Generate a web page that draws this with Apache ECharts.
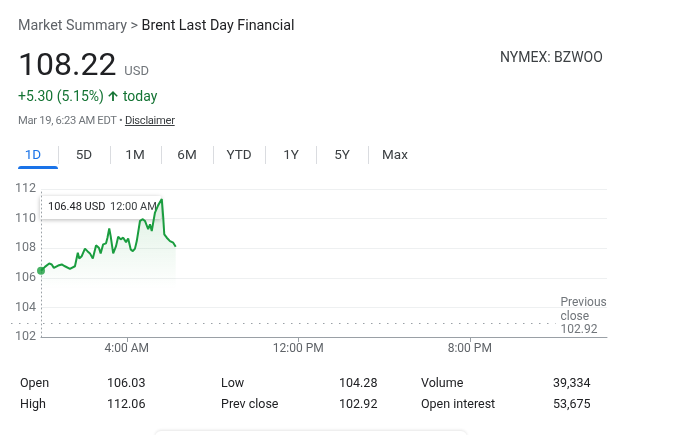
<!DOCTYPE html>
<html>
<head>
<meta charset="utf-8">
<script src="https://cdn.jsdelivr.net/npm/echarts@6/dist/echarts.min.js"></script>
<style>
  html, body { margin:0; padding:0; background:#fff; }
  body { width:677px; height:435px; position:relative; overflow:hidden; font-family: Roboto, Arial, sans-serif; }
  #chart { position:absolute; left:0; top:0; width:677px; height:435px; }
  .t { position:absolute; white-space:nowrap; }
  #crumb { left:18px; top:17px; font-size:14.3px; line-height:16px; color:#5f6368; }
  #crumb b { font-weight:400; color:#202124; }
  #price { left:18px; top:46px; display:flex; align-items:baseline; }
  #price .big { font-size:32px; line-height:36px; color:#202124; }
  #price .cur { font-size:13px; color:#70757a; margin-left:8px; }
  #chg { left:18px; top:88px; font-size:14px; line-height:16px; color:#137333; }
  #chg svg { vertical-align:-1px; }
  #date { left:18px; top:114px; font-size:11.2px; line-height:14px; color:#70757a; letter-spacing:-0.3px; }
  #date u { color:#3c4043; }
  #exch { left:500px; top:49px; font-size:14px; line-height:16px; color:#3c4043; }
  .tab { position:absolute; top:145px; font-size:13.5px; line-height:18px; color:#3c4043; transform:translateX(-50%); }
  .tab.on { color:#1a73e8; }
  .sep { position:absolute; top:146px; width:1px; height:18px; background:#dadce0; }
  #uline { position:absolute; left:18px; top:165.5px; width:40px; height:3px; background:#1a73e8; border-radius:3px 3px 0 0; }
  .cell { position:absolute; font-size:12.5px; line-height:16px; color:#202124; transform:translateY(-50%); }
  #card { position:absolute; left:155px; top:431px; width:312px; height:12px; border-radius:8px; box-shadow:0 -1px 3px rgba(0,0,0,0.10); background:#fff; }
</style>
</head>
<body>
<div id="chart"></div>
<div id="overlay"></div>
<script>
// ---------------- data ----------------
const breadcrumb = "Market Summary >";
const instrument = "Brent Last Day Financial";
const lastPrice = "108.22";
const currency = "USD";
const changeText = "+5.30 (5.15%)";
const dateText = "Mar 19, 6:23 AM EDT";
const exchange = "NYMEX: BZWOO";
const ranges = ["1D", "5D", "1M", "6M", "YTD", "1Y", "5Y", "Max"];
const prevClose = 102.92;

// minutes since midnight, and price
const minutesSinceMidnight = [0, 11, 23, 30, 36, 48, 58, 67, 81, 95, 103, 107, 114, 123, 130, 137, 145, 154, 162, 167,
  174, 182, 186, 191, 195, 202, 210, 216, 223, 230, 238, 244, 251, 257, 263, 268, 272, 277, 285, 291,
  296, 300, 305, 310, 314, 319, 328, 338, 342, 345, 352, 356, 361, 366, 370, 375, 377];
const prices = [106.48, 106.74, 106.97, 106.90, 106.67, 106.83, 106.90, 106.78, 106.61, 106.78, 107.69, 107.31, 107.46, 107.97, 107.80, 107.65, 107.31, 108.19, 108.03, 107.65,
  108.26, 108.33, 108.71, 109.33, 108.82, 107.65, 108.14, 108.78, 108.60, 108.71, 108.41, 108.65, 107.92, 107.80, 107.97, 108.48, 108.60, 109.84, 109.96, 109.84,
  109.91, 109.28, 109.62, 109.16, 109.73, 110.41, 110.91, 111.32, 110.10, 108.94, 108.71, 108.60, 108.48, 108.53, 108.37, 108.26, 108.10];

const xTickMinutes = [240, 720, 1200];
const yTicks = [102, 104, 106, 108, 110, 112];
const sessionEndMinutes = 1440;

const statsLabels = [["Open", "High"], ["Low", "Prev close"], ["Volume", "Open interest"]];
const statsValues = [["106.03", "112.06"], ["104.28", "102.92"], ["39,334", "53,675"]];

// ---------------- HTML text ----------------
const ov = document.getElementById('overlay');
function add(html) { ov.insertAdjacentHTML('beforeend', html); }
add(`<div class="t" id="crumb">${breadcrumb} <b>${instrument}</b></div>`);
add(`<div class="t" id="price"><span class="big">${lastPrice}</span><span class="cur">${currency}</span></div>`);
add(`<div class="t" id="chg">${changeText} <svg width="12" height="13" viewBox="0 0 24 24"><path fill="#137333" d="M2.5 12.5l2.2 2.2L10.2 9.2V23h3.6V9.2l5.5 5.5 2.2-2.2L12 3z"/></svg> today</div>`);
add(`<div class="t" id="date">${dateText} • <u>Disclaimer</u></div>`);
add(`<div class="t" id="exch">${exchange}</div>`);
const tabCenters = [33, 84, 135, 187, 239, 291, 342, 395];
const sepX = [58, 110, 161, 213, 265, 316, 368];
ranges.forEach((r, i) => add(`<div class="tab${i === 0 ? ' on' : ''}" style="left:${tabCenters[i]}px">${r}</div>`));
sepX.forEach(x => add(`<div class="sep" style="left:${x}px"></div>`));
add(`<div id="uline"></div>`);
const colLabelX = [20, 221, 421], colValX = [107, 339, 553], rowY = [383, 404];
statsLabels.forEach((col, c) => col.forEach((lab, r) => {
  add(`<div class="cell" style="left:${colLabelX[c]}px;top:${rowY[r]}px">${lab}</div>`);
  add(`<div class="cell" style="left:${colValX[c]}px;top:${rowY[r]}px">${statsValues[c][r]}</div>`);
}));
add(`<div id="card"></div>`);

// ---------------- chart ----------------
function fmtTime(m) {
  let h = Math.floor(m / 60) % 24, mm = Math.round(m % 60);
  const ap = h < 12 ? 'AM' : 'PM';
  let h12 = h % 12; if (h12 === 0) h12 = 12;
  return h12 + ':' + String(mm).padStart(2, '0') + ' ' + ap;
}
const lineData = minutesSinceMidnight.map((m, i) => [m, prices[i]]);
const green = '#1a9d3f';
const chart = echarts.init(document.getElementById('chart'), null, { renderer: 'canvas' });
chart.setOption({
  animation: false,
  grid: { left: 41, right: 70, top: 189, bottom: 98 },
  xAxis: {
    type: 'value', min: 0, max: 1584,
    axisLine: { show: true, lineStyle: { color: '#9aa0a6', width: 1 } },
    axisTick: { show: true, length: 5, customValues: xTickMinutes, lineStyle: { color: '#9aa0a6' } },
    axisLabel: { customValues: xTickMinutes, formatter: v => fmtTime(v), color: '#5f6368', fontSize: 12, margin: 6, fontFamily: 'Roboto' },
    splitLine: { show: false }
  },
  yAxis: {
    type: 'value', min: yTicks[0], max: yTicks[yTicks.length - 1], interval: 2,
    axisLine: { show: true, lineStyle: { color: '#9aa0a6', width: 1, type: [1, 3] } },
    axisTick: { show: false },
    axisLabel: { color: '#70757a', fontSize: 12.5, margin: 5, fontFamily: 'Roboto' },
    splitLine: { show: true, lineStyle: { color: '#eef0f1', width: 1 } }
  },
  series: [
    {
      type: 'line', data: lineData, showSymbol: false,
      lineStyle: { color: green, width: 2 },
      areaStyle: {
        color: new echarts.graphic.LinearGradient(0, 0, 0, 1, [
          { offset: 0, color: 'rgba(30,158,62,0.22)' },
          { offset: 0.65, color: 'rgba(30,158,62,0)' }
        ])
      }
    },
    {
      type: 'scatter', data: [lineData[0]], symbol: 'circle', symbolSize: 8,
      itemStyle: { color: green }, z: 5
    }
  ]
});

// previous-close reference line (extends left of the plot, as in the original)
const pStart = chart.convertToPixel({ gridIndex: 0 }, [0, prevClose]);
const pEnd = chart.convertToPixel({ gridIndex: 0 }, [sessionEndMinutes, prevClose]);
const p0 = chart.convertToPixel({ gridIndex: 0 }, lineData[0]);
chart.setOption({
  series: [{
    markLine: {
      silent: true, symbol: 'none', animation: false,
      lineStyle: { color: '#9aa0a6', width: 1.2, type: [1.5, 6.5] },
      label: {
        show: true, position: 'end', distance: 5,
        formatter: () => 'Previous\nclose\n' + prevClose.toFixed(2) + '\n ',
        color: '#70757a', fontSize: 12, lineHeight: 13.5, fontFamily: 'Roboto',
        align: 'left'
      },
      data: [[{ x: pStart[0] - 30, y: pStart[1] }, { x: pEnd[0], y: pEnd[1] }]]
    }
  }],
  graphic: [
    {
      type: 'group', left: p0[0] - 1, top: 196, z: 100,
      children: [
        { type: 'rect', shape: { x: 0, y: 0, width: 121, height: 23, r: 1 },
          style: { fill: '#fff', shadowBlur: 4, shadowColor: 'rgba(0,0,0,0.28)', shadowOffsetY: 1 } },
        { type: 'text', x: 8, y: 11.5, style: { text: prices[0].toFixed(2) + ' ' + currency, fill: '#202124', fontSize: 11, fontFamily: 'Roboto', verticalAlign: 'middle' } },
        { type: 'text', x: 70, y: 11.5, style: { text: fmtTime(minutesSinceMidnight[0]), fill: '#3c4043', fontSize: 11, fontFamily: 'Roboto', verticalAlign: 'middle' } }
      ]
    }
  ]
});
</script>
</body>
</html>
